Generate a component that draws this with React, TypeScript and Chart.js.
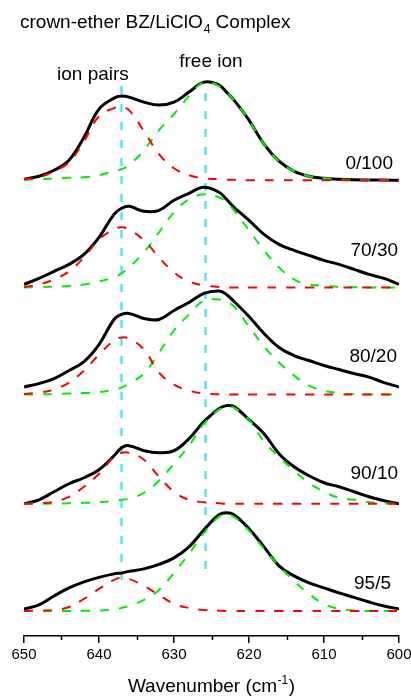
import React, { useEffect, useRef } from "react";
import { Chart, registerables } from "chart.js";

Chart.register(...registerables);

// Wavenumber grid (cm-1) on which the curves were read
const WAVENUMBERS = [650, 648, 646, 644, 642, 640, 638, 637, 636, 634, 632, 630, 628, 626, 624, 623, 622, 620, 618, 616, 614, 612, 610, 608, 606, 604, 602, 600];

const SAMPLES = ["0/100", "70/30", "80/20", "90/10", "95/5"];
const OFFSETS = [430, 323, 216, 107, 0];

// measured envelope (black), ion-pair band (red), free-ion band (green)
const TOTAL_0_100 = [1, 4, 10, 20, 43, 71, 82, 84, 83, 78, 75, 78, 88, 98, 95, 88, 80, 60, 36, 19, 9, 4, 2, 1, 0.5, 0.3, 0.2, 0];
const PAIR_0_100 = [1, 3, 9, 18, 39, 64, 72, 73, 70, 49, 26, 12, 5, 2, 1, 0.5, 0.5, 0, 0, 0, 0, 0, 0, 0, 0, 0, 0, 0];
const FREE_0_100 = [0.5, 1, 1.5, 2.5, 3, 5, 9, 11, 15, 30, 50, 66, 84, 98, 94, 88, 80, 60, 36, 19, 9, 4, 2, 1, 0.5, 0.3, 0.2, 0];

const TOTAL_70_30 = [3, 9, 16, 23, 33, 50, 73, 79, 81, 76, 77, 87, 94, 100, 95, 88, 80, 67, 53, 43, 37, 32, 27, 23, 18, 13, 9, 3];
const PAIR_70_30 = [0.5, 3, 8, 16, 30, 48, 58, 60, 58, 47, 30, 15, 6, 2, 0.5, 0, 0, 0, 0, 0, 0, 0, 0, 0, 0, 0, 0, 0];
const FREE_70_30 = [0, 0.3, 0.7, 1.5, 3, 6, 10, 14, 20, 35, 55, 75, 88, 93, 90, 85, 77, 57, 37, 20, 8, 3, 1.5, 0.5, 0.2, 0, 0, 0];

const TOTAL_80_20 = [7.6, 11, 16, 24, 33, 50, 75, 80, 81, 76, 75, 84, 92, 101, 103.5, 100, 93, 78, 61, 47, 39, 34, 29, 25, 21, 17.5, 12, 7.6];
const PAIR_80_20 = [0.5, 2, 5, 12, 24, 40, 54, 57, 56, 45, 22, 10, 4, 1, 0.3, 0, 0, 0, 0, 0, 0, 0, 0, 0, 0, 0, 0, 0];
const FREE_80_20 = [0, 0.3, 0.5, 1, 1.5, 2.5, 5, 7, 11, 21, 42, 64, 80, 94, 95, 93, 88, 68, 48, 32, 19, 9, 4, 1.5, 0.5, 0.2, 0, 0];

const TOTAL_90_10 = [0, 4, 12, 20, 26, 34, 48, 56, 58, 53, 51, 53, 65, 82, 95, 98, 97, 84, 70, 50, 37, 28, 21, 17, 12, 7, 3, 0];
const PAIR_90_10 = [0, 0.5, 2, 7, 17, 30, 47, 51, 51, 44, 27, 12, 4, 1.5, 0.5, 0, 0, 0, 0, 0, 0, 0, 0, 0, 0, 0, 0, 0];
const FREE_90_10 = [0, 0, 0.3, 0.5, 1, 1.5, 3, 4, 5, 11, 23, 40, 58, 80, 94, 97, 96, 84, 62, 47, 33, 21, 12, 6, 4, 1.5, 0.5, 0];

const TOTAL_95_5 = [2, 6, 15, 23, 29, 33.5, 37, 38, 39.5, 42, 46.5, 53, 64, 81, 96, 98, 96, 82, 64, 45, 35, 28, 23, 18, 13.5, 9, 5, 2];
const PAIR_95_5 = [0, 0.3, 1, 4, 12, 22, 31, 33, 32, 25, 16, 7, 3, 1, 0.3, 0, 0, 0, 0, 0, 0, 0, 0, 0, 0, 0, 0, 0];
const FREE_95_5 = [0, 0, 0, 0, 0.2, 0.5, 1.5, 3, 5, 11, 21, 38, 57, 78, 94, 96, 94, 80, 62, 45, 30, 17, 7, 2, 0.5, 0, 0, 0];

const TOTALS = [TOTAL_0_100, TOTAL_70_30, TOTAL_80_20, TOTAL_90_10, TOTAL_95_5];
const PAIRS = [PAIR_0_100, PAIR_70_30, PAIR_80_20, PAIR_90_10, PAIR_95_5];
const FREES = [FREE_0_100, FREE_70_30, FREE_80_20, FREE_90_10, FREE_95_5];

// reference lines: ion pairs and free ion positions
const ION_PAIR_WN = 637;
const FREE_ION_WN = 625.8;

const X_TICKS = [650, 640, 630, 620, 610, 600];
const MINOR_TICKS = [645, 635, 625, 615, 605];

const FONT = '"Liberation Sans", Arial, Helvetica, sans-serif';

const series = (vals: number[], off: number) =>
  WAVENUMBERS.map((w, i) => ({ x: w, y: vals[i] + off }));

const annotPlugin = {
  id: "annot",
  afterDraw(chart: any) {
    const { ctx, chartArea } = chart;
    const xs = chart.scales.x;
    const ys = chart.scales.y;
    ctx.save();
    // minor ticks
    ctx.strokeStyle = "#000";
    ctx.lineWidth = 1.5;
    MINOR_TICKS.forEach((w) => {
      const px = Math.round(xs.getPixelForValue(w)) + 0.5;
      ctx.beginPath();
      ctx.moveTo(px, chartArea.bottom);
      ctx.lineTo(px, chartArea.bottom + 4);
      ctx.stroke();
    });
    ctx.fillStyle = "#000";
    ctx.textBaseline = "alphabetic";
    // title with subscript
    ctx.textAlign = "left";
    ctx.font = `19px ${FONT}`;
    let tx = 20;
    const ty = 28;
    const t1 = "crown-ether BZ/LiClO";
    ctx.fillText(t1, tx, ty);
    tx += ctx.measureText(t1).width;
    ctx.font = `12px ${FONT}`;
    ctx.fillText("4", tx + 1, ty + 5);
    tx += ctx.measureText("4").width + 1;
    ctx.font = `19px ${FONT}`;
    ctx.fillText(" Complex", tx, ty);

    // band labels
    ctx.font = `19px ${FONT}`;
    ctx.fillText("ion pairs", xs.getPixelForValue(645.6), ys.getPixelForValue(530));
    ctx.fillText("free ion", xs.getPixelForValue(629.3), ys.getPixelForValue(543));

    // sample labels (right aligned)
    ctx.textAlign = "right";
    const lx = [600.8, 600.13, 600.27, 600.13, 601.07];
    const ly = [441.7, 354, 248.3, 131.7, 21.7];
    SAMPLES.forEach((s, i) => {
      ctx.fillText(s, xs.getPixelForValue(lx[i]), ys.getPixelForValue(ly[i]));
    });

    // x axis title with superscript
    ctx.textAlign = "left";
    ctx.font = `19px ${FONT}`;
    const a = "Wavenumber (cm";
    const sup = "-1";
    const b = ")";
    const wa = ctx.measureText(a).width;
    const wb = ctx.measureText(b).width;
    ctx.font = `12px ${FONT}`;
    const ws = ctx.measureText(sup).width;
    const total = wa + ws + wb + 1;
    const cx = (chartArea.left + chartArea.right) / 2;
    let x0 = cx - total / 2;
    const by = 692;
    ctx.font = `19px ${FONT}`;
    ctx.fillText(a, x0, by);
    x0 += wa;
    ctx.font = `12px ${FONT}`;
    ctx.fillText(sup, x0 + 0.5, by - 8);
    x0 += ws + 1;
    ctx.font = `19px ${FONT}`;
    ctx.fillText(b, x0, by);
    ctx.restore();
  },
};

export default function App() {
  const ref = useRef<HTMLCanvasElement>(null);
  useEffect(() => {
    if (!ref.current) return;
    const datasets: any[] = [];
    const common = { pointRadius: 0, tension: 0.4, fill: false };
    SAMPLES.forEach((s, i) => {
      datasets.push({
        ...common,
        label: s + " ion pairs",
        data: series(PAIRS[i], OFFSETS[i]),
        borderColor: "#ff0000",
        borderWidth: 2,
        borderDash: [9, 10],
      });
    });
    SAMPLES.forEach((s, i) => {
      datasets.push({
        ...common,
        label: s + " free ion",
        data: series(FREES[i], OFFSETS[i]),
        borderColor: "#00ee00",
        borderWidth: 2,
        borderDash: [9, 10],
      });
    });
    SAMPLES.forEach((s, i) => {
      datasets.push({
        ...common,
        label: s,
        data: series(TOTALS[i], OFFSETS[i]),
        borderColor: "#000000",
        borderWidth: 3,
      });
    });
    datasets.push({
      label: "ion pair position",
      data: [
        { x: ION_PAIR_WN, y: 31 },
        { x: ION_PAIR_WN, y: 525 },
      ],
      borderColor: "#22e8f2",
      borderWidth: 2,
      borderDash: [8, 10],
      pointRadius: 0,
    });
    datasets.push({
      label: "free ion position",
      data: [
        { x: FREE_ION_WN, y: 42 },
        { x: FREE_ION_WN, y: 528 },
      ],
      borderColor: "#22e8f2",
      borderWidth: 2,
      borderDash: [8, 10],
      pointRadius: 0,
    });

    const chart = new Chart(ref.current, {
      type: "line",
      data: { datasets },
      options: {
        animation: false,
        responsive: false,
        maintainAspectRatio: false,
        layout: { padding: { left: 24, right: 12, top: 30, bottom: 33 } },
        plugins: { legend: { display: false }, tooltip: { enabled: false }, title: { display: false } },
        scales: {
          x: {
            type: "linear",
            min: 600,
            max: 650,
            reverse: true,
            afterBuildTicks: (scale: any) => {
              scale.ticks = X_TICKS.map((v) => ({ value: v }));
            },
            afterFit: (scale: any) => {
              scale.paddingLeft = 0;
              scale.paddingRight = 0;
            },
            ticks: { color: "#000", font: { size: 15, family: FONT }, padding: 3, maxRotation: 0 },
            grid: { drawOnChartArea: false, tickLength: 7, color: "#000", lineWidth: 1.5 },
            border: { display: true, color: "#000", width: 1.5 },
          },
          y: {
            type: "linear",
            display: false,
            min: -25,
            max: 580,
          },
        },
      },
      plugins: [annotPlugin],
    });
    return () => chart.destroy();
  }, []);
  return (
    <div style={{ position: "fixed", left: 0, top: 0, width: 411, height: 700, background: "#fff" }}>
      <canvas ref={ref} width={411} height={700} style={{ display: "block" }} />
    </div>
  );
}
